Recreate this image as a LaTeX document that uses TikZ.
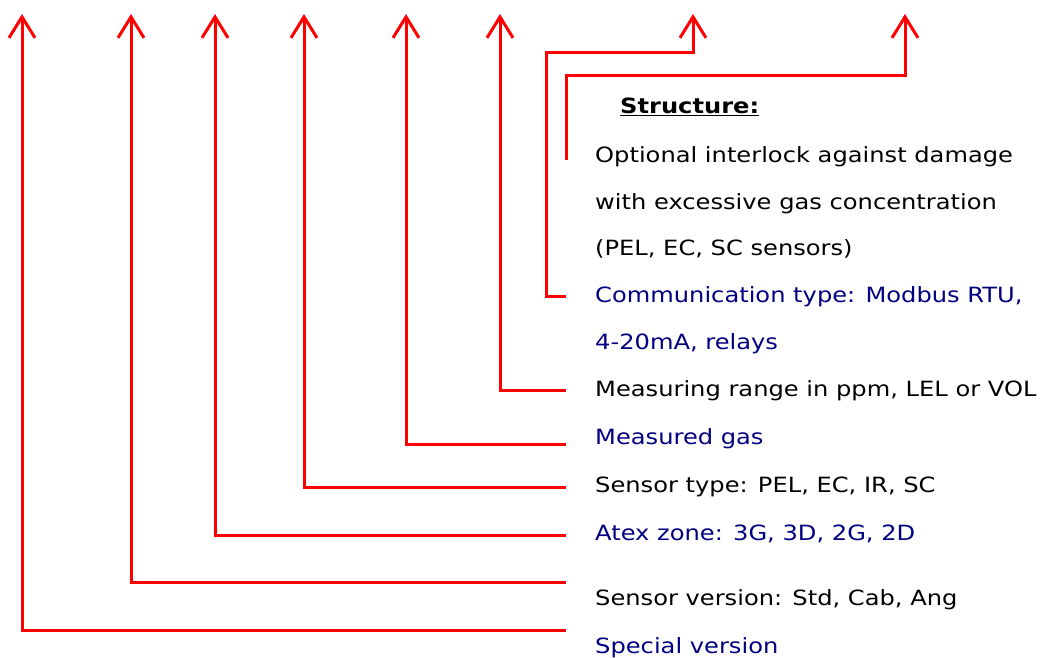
\documentclass[tikz,border=0pt]{standalone}
\usepackage{fontspec}
\setmainfont{DejaVu Sans}[FakeStretch=1.15]
\usepackage{tikz}
\usetikzlibrary{arrows.meta}
\definecolor{bleu}{RGB}{0,0,128}

\tikzset{
  fleche/.style={red,line width=3pt,line join=miter,-{Straight Barb[length=21pt,width=26pt]}},
  texte/.style={anchor=base west,inner sep=0pt,font=\fontsize{21}{24}\selectfont},
  texteb/.style={texte,text=bleu}
}

\begin{document}
\begin{tikzpicture}[x=1pt,y=-1pt]
\useasboundingbox (0,0) rectangle (1040,657);
% Textes
\node[texte,font=\fontsize{21}{24}\selectfont\bfseries] (titre) at (620,113) {\underline{Structure:}};
\node[texte] (verrou1) at (595,162) {Optional interlock against damage};
\node[texte] (verrou2) at (595,209) {with excessive gas concentration};
\node[texte] (verrou3) at (595,255) {(PEL, EC, SC sensors)};
\node[texteb] (comm1) at (595,302) {Communication type: Modbus RTU,};
\node[texteb] (comm2) at (595,349) {4-20mA, relays};
\node[texte] (plage) at (595,396) {Measuring range in ppm, LEL or VOL};
\node[texteb] (gaz) at (595,444) {Measured gas};
\node[texte] (capteur) at (595,492) {Sensor type: PEL, EC, IR, SC};
\node[texteb] (atex) at (595,540) {Atex zone: 3G, 3D, 2G, 2D};
\node[texte] (version) at (595,605) {Sensor version: Std, Cab, Ang};
\node[texteb] (special) at (595,653) {Special version};
% Points
\coordinate (pSpecial) at (566,630);
\coordinate (pVersion) at (566,582);
\coordinate (pAtex) at (566,535);
\coordinate (pCapteur) at (566,487);
\coordinate (pGaz) at (566,444);
\coordinate (pPlage) at (566,390);
\coordinate (pComm) at (566,296);
\coordinate (pVerrou) at (566,160);
\coordinate (hSpecial) at (22,14);
\coordinate (hVersion) at (131,14);
\coordinate (hAtex) at (215,14);
\coordinate (hCapteur) at (304,14);
\coordinate (hGaz) at (406,14);
\coordinate (hPlage) at (500,14);
\coordinate (hComm) at (693,14);
\coordinate (hVerrou) at (905,14);
% Flèches
\draw[fleche] (pSpecial) -| (hSpecial);
\draw[fleche] (pVersion) -| (hVersion);
\draw[fleche] (pAtex) -| (hAtex);
\draw[fleche] (pCapteur) -| (hCapteur);
\draw[fleche] (pGaz) -| (hGaz);
\draw[fleche] (pPlage) -| (hPlage);
\draw[fleche] (pComm) -- (546,296) |- (693,52) -- (hComm);
\draw[fleche] (pVerrou) |- (905,75) -- (hVerrou);
\end{tikzpicture}
\end{document}
